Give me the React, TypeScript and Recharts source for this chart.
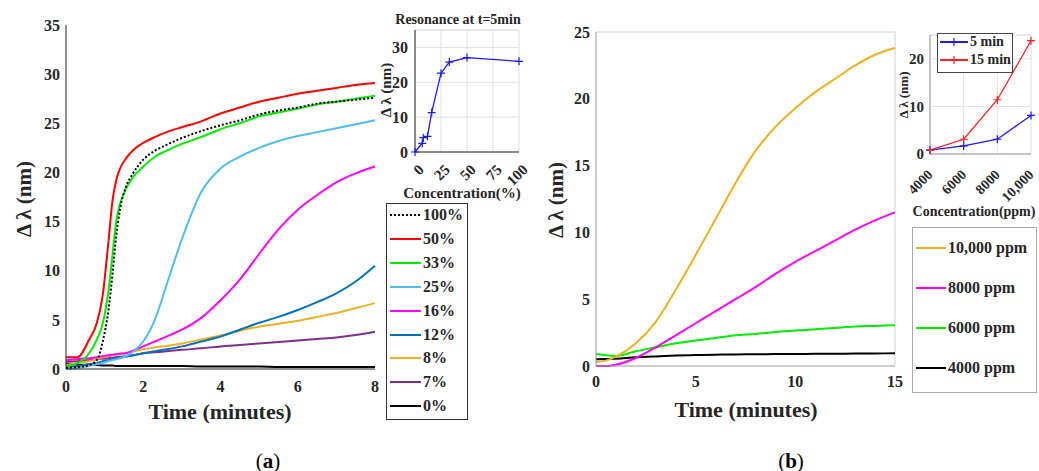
import React from 'react';
import { LineChart, Line, XAxis, YAxis, CartesianGrid, ReferenceLine } from 'recharts';

const FONT = '"Liberation Serif", "DejaVu Serif", serif';
const INK = '#262626';

// (a) shift vs time, one array per concentration
const timeA = [0, 0.3, 0.6, 0.8, 0.95, 1.1, 1.2, 1.3, 1.4, 1.55, 1.75, 2, 2.3, 2.6, 3, 3.5, 4, 4.5, 5, 5.5, 6, 6.5, 7, 7.5, 8];
const pct100 = [0.1, 0.2, 0.4, 0.9, 2.8, 6.0, 9.5, 13.5, 16.3, 18.5, 20.0, 21.3, 22.2, 22.8, 23.5, 24.2, 24.8, 25.3, 25.9, 26.3, 26.6, 27.0, 27.2, 27.4, 27.6];
const pct50 = [1.2, 1.2, 3.0, 4.7, 7.5, 13.0, 17.0, 19.2, 20.4, 21.4, 22.3, 23.0, 23.6, 24.1, 24.6, 25.2, 26.0, 26.6, 27.2, 27.6, 28.0, 28.3, 28.6, 28.9, 29.1];
const pct33 = [0.3, 0.6, 1.6, 3.0, 4.6, 8.0, 11.5, 15.0, 16.8, 18.3, 19.6, 20.6, 21.6, 22.2, 22.9, 23.6, 24.4, 25.0, 25.7, 26.1, 26.5, 26.9, 27.2, 27.5, 27.8];
const pct25 = [0.0, 0.1, 0.3, 0.5, 0.6, 0.8, 0.9, 1.0, 1.1, 1.3, 1.8, 2.8, 5.0, 8.5, 13.2, 18.0, 20.4, 21.6, 22.5, 23.2, 23.7, 24.1, 24.5, 24.9, 25.3];
const pct16 = [0.9, 1.0, 1.1, 1.2, 1.3, 1.4, 1.45, 1.5, 1.55, 1.6, 1.9, 2.3, 2.8, 3.3, 4.0, 5.2, 7.0, 9.1, 11.7, 14.2, 16.2, 17.7, 19.0, 19.9, 20.6];
const pct12 = [0.2, 0.3, 0.5, 0.6, 0.8, 0.9, 1.0, 1.1, 1.15, 1.25, 1.4, 1.6, 1.8, 2.0, 2.3, 2.8, 3.3, 4.0, 4.7, 5.3, 6.0, 6.8, 7.7, 8.9, 10.5];
const pct8 = [0.4, 0.6, 0.8, 1.0, 1.2, 1.3, 1.4, 1.5, 1.55, 1.65, 1.8, 2.0, 2.2, 2.35, 2.6, 3.0, 3.4, 3.9, 4.3, 4.6, 4.9, 5.3, 5.7, 6.2, 6.7];
const pct7 = [0.7, 0.8, 0.9, 1.0, 1.05, 1.1, 1.15, 1.2, 1.25, 1.3, 1.4, 1.6, 1.7, 1.8, 1.95, 2.1, 2.3, 2.45, 2.6, 2.75, 2.9, 3.05, 3.2, 3.45, 3.8];
const pct0 = [0.5, 0.45, 0.4, 0.4, 0.35, 0.35, 0.35, 0.3, 0.3, 0.3, 0.3, 0.3, 0.3, 0.3, 0.3, 0.25, 0.25, 0.25, 0.25, 0.2, 0.2, 0.2, 0.2, 0.2, 0.2];

// (a) inset: resonance at t = 5 min
const concPct = [0, 7, 8, 12, 16, 25, 33, 50, 100];
const res5min = [0, 2.5, 4.1, 4.5, 11.3, 22.6, 25.8, 27.1, 26.0];

// (b) shift vs time per ppm
const timeB = [0, 0.5, 1, 2, 3, 4, 5, 6, 7, 8, 9, 10, 11, 12, 13, 14, 15];
const ppm10000 = [0.3, 0.4, 0.7, 1.7, 3.3, 5.7, 8.3, 11.0, 13.7, 16.1, 17.9, 19.3, 20.5, 21.5, 22.5, 23.3, 23.8];
const ppm8000 = [0.0, 0.0, 0.1, 0.6, 1.4, 2.3, 3.2, 4.1, 5.0, 5.9, 6.9, 7.8, 8.6, 9.4, 10.2, 10.9, 11.5];
const ppm6000 = [0.9, 0.8, 0.75, 1.1, 1.4, 1.7, 1.9, 2.1, 2.3, 2.4, 2.55, 2.65, 2.75, 2.85, 2.95, 3.0, 3.05];
const ppm4000 = [0.5, 0.52, 0.55, 0.65, 0.72, 0.78, 0.82, 0.85, 0.87, 0.88, 0.89, 0.9, 0.91, 0.92, 0.93, 0.94, 0.95];

// (b) inset
const ppmConc = [4000, 6000, 8000, 10000];
const ppmLabels = ['4000', '6000', '8000', '10,000'];
const shift5min = [0.8, 1.7, 3.1, 8.1];
const shift15min = [0.8, 3.1, 11.4, 23.8];

const seriesA = [
  { key: 'p0', name: '0%', color: '#000000', values: pct0 },
  { key: 'p7', name: '7%', color: '#7e2f8e', values: pct7 },
  { key: 'p8', name: '8%', color: '#edb120', values: pct8 },
  { key: 'p12', name: '12%', color: '#0072bd', values: pct12 },
  { key: 'p16', name: '16%', color: '#ff00ff', values: pct16 },
  { key: 'p25', name: '25%', color: '#4dbeee', values: pct25 },
  { key: 'p33', name: '33%', color: '#00ee00', values: pct33 },
  { key: 'p50', name: '50%', color: '#ff0000', values: pct50 },
  { key: 'p100', name: '100%', color: '#000000', values: pct100, dash: '2 2' },
];

const seriesB = [
  { key: 'c4000', name: '4000 ppm', color: '#000000', values: ppm4000 },
  { key: 'c6000', name: '6000 ppm', color: '#00ee00', values: ppm6000 },
  { key: 'c8000', name: '8000 ppm', color: '#ff00ff', values: ppm8000 },
  { key: 'c10000', name: '10,000 ppm', color: '#edb120', values: ppm10000 },
];

const rowsA = timeA.map((t, i) => {
  const row: any = { t };
  seriesA.forEach(s => { row[s.key] = s.values[i]; });
  return row;
});
const rowsB = timeB.map((t, i) => {
  const row: any = { t };
  seriesB.forEach(s => { row[s.key] = s.values[i]; });
  return row;
});
const insetRowsA = concPct.map((c, i) => ({ c, v: res5min[i] }));
const insetRowsB = ppmConc.map((c, i) => ({ c, m5: shift5min[i], m15: shift15min[i] }));

const tickStyle = { fontFamily: FONT, fontWeight: 700, fontSize: 16, fill: INK };
const smallTick = { fontFamily: FONT, fontWeight: 700, fontSize: 15, fill: INK };

function PlusDot(props: any) {
  const { cx, cy, stroke, index } = props;
  if (cx == null || cy == null) return <g key={index} />;
  return (
    <path key={index} d={`M${cx - 4},${cy}H${cx + 4}M${cx},${cy - 4}V${cy + 4}`} stroke={stroke} strokeWidth={1.2} fill="none" />
  );
}

function SlantTick(props: any) {
  const { x, y, payload, labels, dx = 6, dy = 11, size = 15 } = props;
  const text = labels ? labels[ppmConc.indexOf(payload.value)] : String(payload.value);
  return (
    <g transform={`translate(${x + dx},${y + dy}) rotate(-45)`}>
      <text textAnchor="end" dy="0.35em" style={{ ...smallTick, fontSize: size }}>{text}</text>
    </g>
  );
}

function Txt({ x, y, size, children, rotate = false, bold = true }: any) {
  return (
    <div
      style={{
        position: 'absolute', left: x, top: y, transform: `translate(-50%, -50%)${rotate ? ' rotate(-90deg)' : ''}`,
        fontFamily: FONT, fontWeight: bold ? 700 : 400, fontSize: size, color: INK, whiteSpace: 'nowrap', lineHeight: 1,
      }}
    >
      {children}
    </div>
  );
}

function LegendRow({ color, dash, label, width = 30, top, left, size = 16, plus = false }: any) {
  return (
    <div style={{ position: 'absolute', left, top, display: 'flex', alignItems: 'center', transform: 'translateY(-50%)' }}>
      <svg width={width} height={10} style={{ display: 'block' }}>
        <line x1={0} x2={width} y1={5} y2={5} stroke={color} strokeWidth={2} strokeDasharray={dash} />
        {plus && <path d={`M${width / 2 - 4},5H${width / 2 + 4}M${width / 2},1V9`} stroke={color} strokeWidth={1.2} />}
      </svg>
      <span style={{ fontFamily: FONT, fontWeight: 700, fontSize: size, color: INK, marginLeft: 2, lineHeight: 1 }}>{label}</span>
    </div>
  );
}

export default function App() {
  return (
    <div style={{ position: 'absolute', left: 0, top: 0, width: 1039, height: 471, background: '#fff', overflow: 'hidden' }}>
      {/* panel (a) */}
      <div style={{ position: 'absolute', left: 0, top: 0 }}>
        <LineChart width={400} height={430} data={rowsA} margin={{ top: 25, right: 25, left: 26, bottom: 31 }}>
          <XAxis dataKey="t" type="number" domain={[0, 8]} ticks={[0, 2, 4, 6, 8]} interval={0} height={30}
            stroke={INK} tickLine={false} tickMargin={6} tick={tickStyle} />
          <YAxis type="number" domain={[0, 35]} ticks={[0, 5, 10, 15, 20, 25, 30, 35]} interval={0} width={40}
            stroke={INK} tickLine={false} tickMargin={0} tick={tickStyle} />
          {seriesA.map(s => (
            <Line key={s.key} dataKey={s.key} type="monotone" stroke={s.color} strokeWidth={2}
              strokeDasharray={s.dash} dot={false} isAnimationActive={false} />
          ))}
        </LineChart>
      </div>
      <Txt x={24} y={199} size={21} rotate>Δ λ (nm)</Txt>
      <Txt x={220} y={412} size={22}>Time (minutes)</Txt>

      {/* inset (a) */}
      <div style={{ position: 'absolute', left: 340, top: 0 }}>
        <LineChart width={200} height={210} data={insetRowsA} margin={{ top: 30, right: 21, left: 45, bottom: 23 }}>
          <CartesianGrid stroke="#e0e0e0" />
          <ReferenceLine y={35} stroke="#e0e0e0" />
          <XAxis dataKey="c" type="number" domain={[0, 100]} ticks={[0, 25, 50, 75, 100]} interval={0} height={35}
            stroke={INK} tickLine={false} tick={<SlantTick dx={6} dy={7} />} />
          <YAxis type="number" domain={[0, 35]} ticks={[0, 10, 20, 30]} interval={0} width={30}
            stroke={INK} tickLine={false} tickMargin={1} tick={tickStyle} />
          <Line dataKey="v" stroke="#1a1aff" strokeWidth={1.3} dot={<PlusDot />} isAnimationActive={false} />
        </LineChart>
      </div>
      <Txt x={458} y={20} size={14}>Resonance at t=5min</Txt>
      <Txt x={386} y={90} size={15} rotate>Δ λ (nm)</Txt>
      <Txt x={462} y={193} size={15}>Concentration(%)</Txt>

      {/* legend (a) */}
      <div style={{ position: 'absolute', left: 386, top: 203, width: 80, height: 215, border: '1px solid #333', background: '#fff' }} />
      {[...seriesA].reverse().map((s, i) => (
        <LegendRow key={s.key} color={s.color} dash={s.dash} label={s.name} left={390} top={215 + i * 23.9} width={31} />
      ))}

      {/* panel (b) */}
      <div style={{ position: 'absolute', left: 540, top: 0 }}>
        <LineChart width={380} height={430} data={rowsB} margin={{ top: 32, right: 25, left: 16, bottom: 34 }}>
          <ReferenceLine y={25} stroke="#d0d0d0" />
          <ReferenceLine x={15} stroke="#d0d0d0" />
          <XAxis dataKey="t" type="number" domain={[0, 15]} ticks={[0, 5, 10, 15]} interval={0} height={30}
            stroke="#999" tickLine={false} tickMargin={4} tick={tickStyle} />
          <YAxis type="number" domain={[0, 25]} ticks={[0, 5, 10, 15, 20, 25]} interval={0} width={40}
            stroke="#999" tickLine={false} tickMargin={0} tick={tickStyle} />
          {seriesB.map(s => (
            <Line key={s.key} dataKey={s.key} type="monotone" stroke={s.color} strokeWidth={2} dot={false} isAnimationActive={false} />
          ))}
        </LineChart>
      </div>
      <Txt x={556} y={200} size={21} rotate>Δ λ (nm)</Txt>
      <Txt x={746} y={410} size={22}>Time (minutes)</Txt>

      {/* inset (b) */}
      <div style={{ position: 'absolute', left: 880, top: 15 }}>
        <LineChart width={159} height={200} data={insetRowsB} margin={{ top: 20, right: 8, left: 25, bottom: 21 }}>
          <CartesianGrid stroke="#e0e0e0" />
          <ReferenceLine y={25} stroke="#e0e0e0" />
          <XAxis dataKey="c" type="number" domain={[4000, 10000]} ticks={ppmConc} interval={0} height={40}
            stroke="#999" tickLine={false} tick={<SlantTick labels={ppmLabels} dx={0} dy={10} size={14} />} />
          <YAxis type="number" domain={[0, 25]} ticks={[0, 10, 20]} interval={0} width={25}
            stroke="#999" tickLine={false} tickMargin={0} tick={smallTick} />
          <Line dataKey="m5" stroke="#1a1aff" strokeWidth={1.3} dot={<PlusDot />} isAnimationActive={false} />
          <Line dataKey="m15" stroke="#ff2020" strokeWidth={1.3} dot={<PlusDot />} isAnimationActive={false} />
        </LineChart>
      </div>
      <Txt x={903} y={95} size={13} rotate>Δ λ (nm)</Txt>
      <Txt x={974} y={212} size={14}>Concentration(ppm)</Txt>
      <div style={{ position: 'absolute', left: 937, top: 33, width: 74, height: 38, border: '1px solid #444', background: '#fff' }} />
      <LegendRow color="#1a1aff" label="5 min" left={940} top={42} width={28} size={14} plus />
      <LegendRow color="#ff2020" label="15 min" left={940} top={60} width={28} size={14} plus />

      {/* legend (b) */}
      <div style={{ position: 'absolute', left: 912, top: 227, width: 123, height: 164, border: '1px solid #aaa', background: '#fff' }} />
      {[...seriesB].reverse().map((s, i) => (
        <LegendRow key={s.key} color={s.color} label={s.name} left={916} top={248 + i * 40} width={30} />
      ))}

      <div style={{ position: 'absolute', left: 268, top: 461, transform: 'translate(-50%, -50%)', fontFamily: FONT, fontSize: 21, color: '#000' }}>
        (<b>a</b>)
      </div>
      <div style={{ position: 'absolute', left: 791, top: 461, transform: 'translate(-50%, -50%)', fontFamily: FONT, fontSize: 21, color: '#000' }}>
        (<b>b</b>)
      </div>
    </div>
  );
}
